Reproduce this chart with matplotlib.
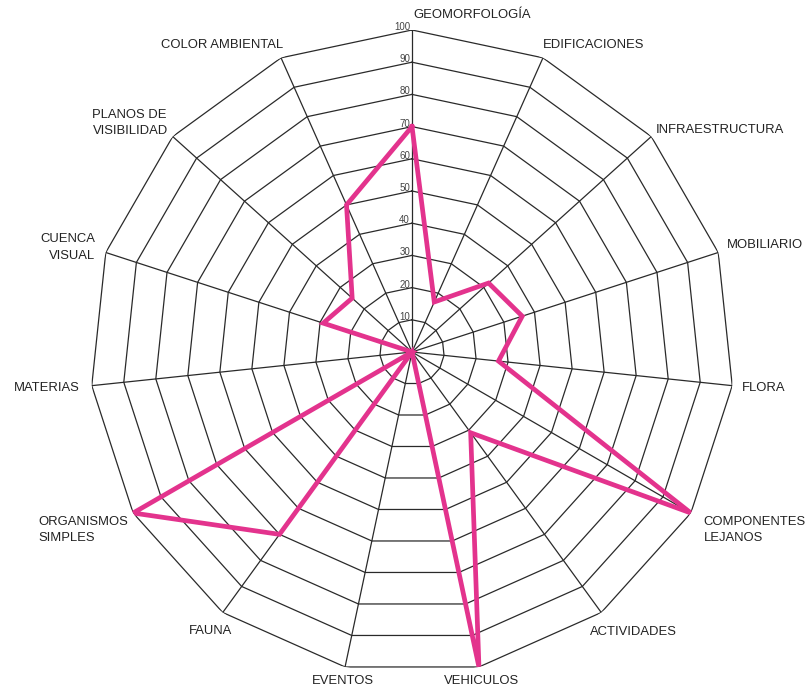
import matplotlib.pyplot as plt
import numpy as np

# categories clockwise from the top
categories = ['GEOMORFOLOGÍA', 'EDIFICACIONES', 'INFRAESTRUCTURA', 'MOBILIARIO',
              'FLORA', 'COMPONENTES\nLEJANOS', 'ACTIVIDADES', 'VEHICULOS',
              'EVENTOS', 'FAUNA', 'ORGANISMOS\nSIMPLES', 'MATERIAS',
              'CUENCA\nVISUAL', 'PLANOS DE\nVISIBILIDAD', 'COLOR AMBIENTAL']
values = [70, 17, 32, 36, 27, 100, 31, 100, 0, 70, 100, 0, 29, 25, 50]
ring_values = [10, 20, 30, 40, 50, 60, 70, 80, 90, 100]

# label placement: alignment and pixel offset from the spoke tip
label_ha = ['left', 'left', 'left', 'left', 'left', 'left', 'center', 'center',
            'center', 'center', 'right', 'right', 'right', 'right', 'right']
label_ma = ['left'] * 10 + ['left', 'right', 'right', 'left', 'right']
label_off = [(1, 15), (0, 13), (4, 7), (9, 7), (10, -2), (13, -17), (32, -19),
             (3, -14), (-2, -14), (-12, -18), (-5, -17), (-12, -2), (-11, 5),
             (-5, 14), (2, 13)]

plt.rcParams['font.family'] = ['Liberation Sans', 'DejaVu Sans']

n = len(categories)
angles = np.linspace(0, 2 * np.pi, n, endpoint=False)
closed = np.append(angles, angles[0])

fig = plt.figure(figsize=(8.12, 6.88), dpi=100)
ax = fig.add_axes([90 / 812, 14 / 688, 644 / 812, 644 / 688], projection='polar')
ax.set_theta_zero_location('N')
ax.set_theta_direction(-1)
ax.set_ylim(0, 100)
ax.grid(False)
ax.spines['polar'].set_visible(False)
ax.set_xticks([])
ax.set_yticks([])

# polygon rings and spokes
for r in ring_values:
    ax.plot(closed, [r] * (n + 1), color='#2a2a2a', lw=0.9, zorder=1)
for a in angles:
    ax.plot([a, a], [0, 100], color='#2a2a2a', lw=0.9, zorder=1)

# scale numbers along the top spoke
for r in ring_values:
    ax.annotate(str(r), xy=(0, r), xytext=(-2, 3), textcoords='offset pixels',
                fontsize=7, color='#444444', ha='right', va='center', zorder=3)

# data line
ax.plot(closed, np.append(values, values[0]), color='#E3338D', lw=3.4,
        solid_joinstyle='miter', zorder=4)

# category labels
for a, lab, ha, ma, off in zip(angles, categories, label_ha, label_ma, label_off):
    ax.annotate(lab, xy=(a, 100), xytext=off, textcoords='offset pixels',
                fontsize=9.4, ha=ha, va='center', multialignment=ma,
                linespacing=1.45, color='#222222', annotation_clip=False)

plt.savefig('out.png', dpi=100)
